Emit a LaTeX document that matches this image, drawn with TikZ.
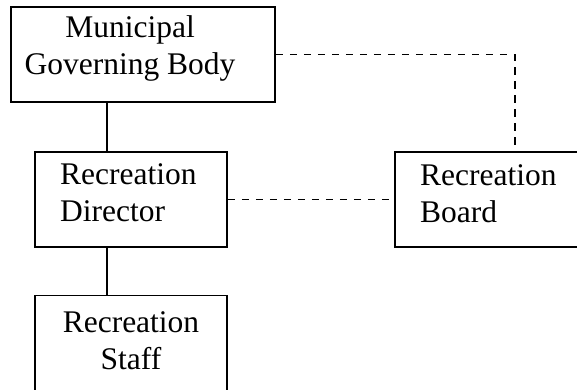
\documentclass[tikz,border=0pt]{standalone}
\usepackage{fontspec}
\setmainfont{Liberation Serif}
\tikzset{
  orgbox/.style={draw, line width=1.9pt, minimum height=95pt, inner sep=0pt},
  orgtext/.style={inner sep=0pt, font=\fontsize{31.5}{37}\selectfont},
  link/.style={line width=1.9pt},
  dotlink/.style={line width=1.9pt, dash pattern=on 7.5pt off 6.5pt},
}
\begin{document}
\begin{tikzpicture}[x=1pt, y=-1pt]
        % 画布大小(与原图一致)
        \clip (0,0) rectangle (577,390);
        % 方框
        \node[orgbox, minimum width=264pt] (mgb) at (143,54.5) {};
        \node[orgbox, minimum width=192pt] (director) at (131,199.5) {};
        \node[orgbox, minimum width=240pt] (board) at (515,199.5) {};
        \node[orgbox, minimum width=192pt] (staff) at (131,343) {};
        % 文字
        \node[orgtext, align=center] (mgb-text) at (130,48.8) {Municipal\\Governing Body};
        \node[orgtext, align=left, anchor=west] (director-text) at (60,192.8) {Recreation\\Director};
        \node[orgtext, align=left, anchor=west] (board-text) at (420,193.7) {Recreation\\Board};
        \node[orgtext, align=center] (staff-text) at (131,341) {Recreation\\Staff};
        % 实线连接
        \draw[link] ([xshift=-36pt]mgb.south) -- ([xshift=-24pt]director.north);
        \draw[link] ([xshift=-24pt]director.south) -- ([xshift=-24pt]staff.north);
        % 虚线连接
        \draw[dotlink] (mgb.east) -| (board.north);
        \draw[dotlink] (director.east) -- (board.west);
    \end{tikzpicture}
\end{document}
